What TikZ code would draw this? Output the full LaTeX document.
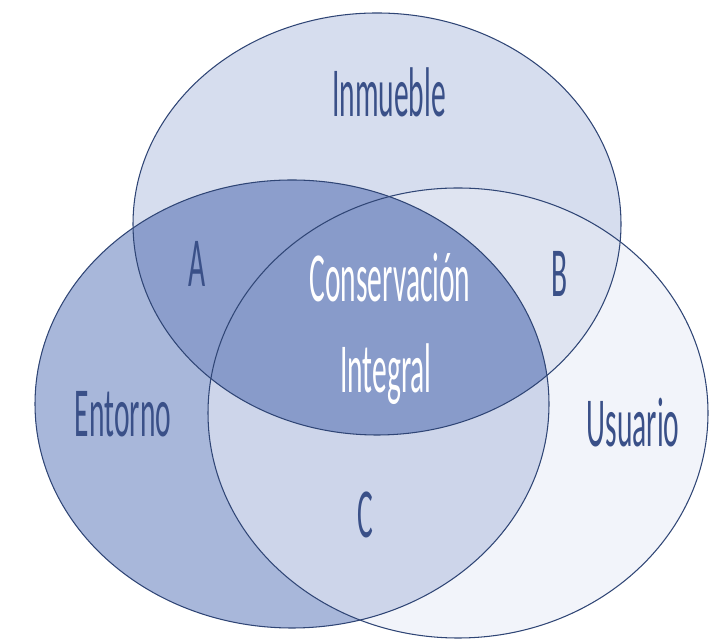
\documentclass[tikz,border=0pt]{standalone}
\usepackage{fontspec}
\usepackage{xcolor}
\usepackage{tikz}
\usetikzlibrary{positioning}
\newfontfamily\vennfont[FakeStretch=0.42]{Carlito}

\definecolor{inmcol}{HTML}{D6DDEE}
\definecolor{entcol}{HTML}{A8B7DA}
\definecolor{usucol}{HTML}{F2F4FA}
\definecolor{acol}{HTML}{8C9ECC}
\definecolor{bcol}{HTML}{DFE4F1}
\definecolor{ccol}{HTML}{CDD5EA}
\definecolor{midcol}{HTML}{889BCA}
\definecolor{rimcol}{HTML}{2F4575}
\definecolor{txtcol}{HTML}{3A5088}

\newcommand{\inmpath}{(7.54,8.32) ellipse (4.88cm and 4.22cm)}
\newcommand{\entpath}{(5.84,4.72) ellipse (5.14cm and 4.48cm)}
\newcommand{\usupath}{(9.16,4.54) ellipse (5.00cm and 4.50cm)}

\begin{document}
\begin{tikzpicture}[
        rim/.style={draw=rimcol, line width=0.6pt},
        lbl/.style={anchor=base, inner sep=0pt, text=txtcol, font=\vennfont\fontsize{40}{48}\selectfont},
        midlbl/.style={lbl, text=white}
    ]
        \useasboundingbox (0,0) rectangle (14.18,12.8);

        \fill[entcol] \entpath;
        \fill[inmcol] \inmpath;
        \fill[usucol] \usupath;

        \begin{scope}
            \clip \inmpath;
            \fill[acol] \entpath;
            \fill[bcol] \usupath;
        \end{scope}
        \begin{scope}
            \clip \entpath;
            \fill[ccol] \usupath;
        \end{scope}
        \begin{scope}
            \clip \inmpath;
            \clip \entpath;
            \fill[midcol] \usupath;
        \end{scope}

        \draw[rim] \inmpath;
        \draw[rim] \entpath;
        \draw[rim] \usupath;

        \node[lbl] (inm) at (7.78,10.46) {Inmueble};
        \node[lbl] (ent) at (2.46,4.06) {Entorno};
        \node[lbl] (usu) at (12.66,3.86) {Usuario};

        \node[lbl] (A) at (3.94,7.06) {A};
        \node[lbl] (B) at (11.2,6.86) {B};
        \node[lbl] (C) at (7.3,2.04) {C};

        \node[midlbl] (cons) at (7.8,6.76) {Conservación};
        \node[midlbl] (integ) at (7.72,4.94) {Integral};
    \end{tikzpicture}
\end{document}
